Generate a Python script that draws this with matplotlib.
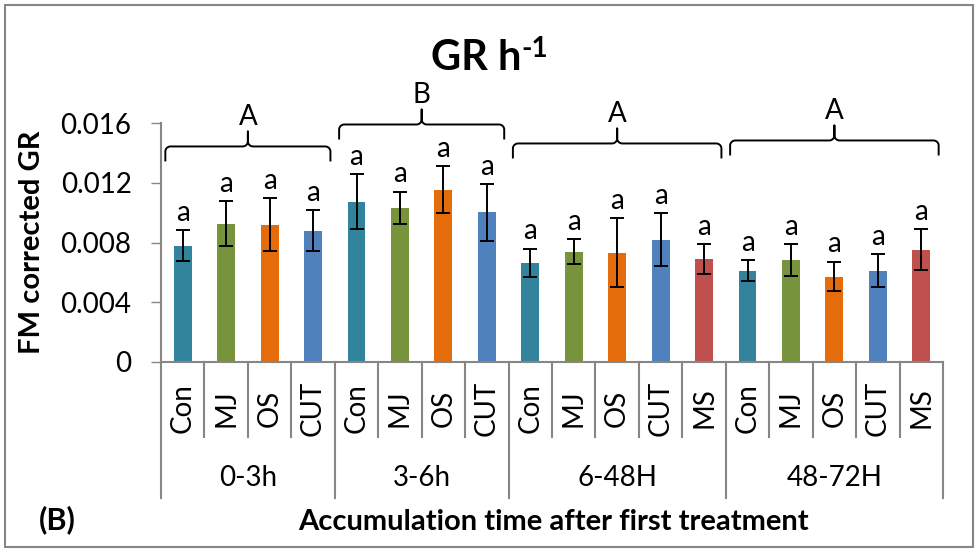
import numpy as np
import matplotlib
matplotlib.use("Agg")
import matplotlib.pyplot as plt
from matplotlib.patches import Rectangle
from matplotlib.transforms import blended_transform_factory

plt.rcParams['font.family'] = ['Lato', 'DejaVu Sans']

# treatments inside each time window
groups = ['0-3h', '3-6h', '6-48H', '48-72H']
group_treatments = [
    ['Con', 'MJ', 'OS', 'CUT'],
    ['Con', 'MJ', 'OS', 'CUT'],
    ['Con', 'MJ', 'OS', 'CUT', 'MS'],
    ['Con', 'MJ', 'OS', 'CUT', 'MS'],
]
# mean GR per bar and its error, in the same order
gr_mean = [0.00779, 0.00927, 0.00920, 0.00880,
           0.01074, 0.01034, 0.01154, 0.01003,
           0.00665, 0.00739, 0.00732, 0.00820, 0.00692,
           0.00612, 0.00685, 0.00572, 0.00612, 0.00752]
gr_err = [0.00105, 0.00150, 0.00180, 0.00138,
          0.00186, 0.00107, 0.00157, 0.00190,
          0.00094, 0.00083, 0.00230, 0.00176, 0.00100,
          0.00073, 0.00107, 0.00100, 0.00112, 0.00136]
bar_letters = ['a'] * 18
group_letters = ['A', 'B', 'A', 'A']
brace_level = [0.01443, 0.01590, 0.01463, 0.01483]
yticks = [0, 0.004, 0.008, 0.012, 0.016]

colors = {'Con': '#31849B', 'MJ': '#77933C', 'OS': '#E46C0A',
          'CUT': '#4F81BD', 'MS': '#C0504D'}
axis_gray = '#868686'
FS = 20

W, H = 975, 549
fig = plt.figure(figsize=(W / 100, H / 100), dpi=100)
def fx(p): return p / W
def fy(p): return 1 - p / H

ax = fig.add_axes([fx(161), fy(362), fx(943) - fx(161), fy(123) - fy(362)])

labels = [t for g in group_treatments for t in g]
x = np.arange(len(labels))
ax.bar(x, gr_mean, width=0.41, color=[colors[t] for t in labels], zorder=2)
ax.errorbar(x, gr_mean, yerr=gr_err, fmt='none', ecolor='black',
            elinewidth=1.4, capsize=4.7, capthick=1.4, zorder=3)
for xi, m, e, s in zip(x, gr_mean, gr_err, bar_letters):
    ax.annotate(s, (xi, m + e), xytext=(0, 3), textcoords='offset points',
                ha='center', va='bottom', fontsize=FS)

ax.set_xlim(-0.5, len(labels) - 0.5)
ax.set_ylim(0, 0.016)
ax.set_yticks(yticks)
ax.set_yticklabels(['0' if v == 0 else f'{v:.3f}' for v in yticks], fontsize=FS)
ax.tick_params(axis='y', length=7.2, width=1, color=axis_gray, pad=14)
ax.set_xticks([])
for s in ['top', 'right']:
    ax.spines[s].set_visible(False)
for s in ['left', 'bottom']:
    ax.spines[s].set_color(axis_gray)
    ax.spines[s].set_linewidth(1.5)

# category axis below the bars: treatment row, then time window row
tr = blended_transform_factory(ax.transData, fig.transFigure)
for xi, t in zip(x, labels):
    ax.text(xi, fy(408), t, rotation=90, ha='center', va='center',
            fontsize=FS, transform=tr)
edges = np.cumsum([0] + [len(g) for g in group_treatments]) - 0.5
for i in range(len(labels) + 1):
    b = i - 0.5
    long_line = np.any(np.isclose(edges, b))
    ax.plot([b, b], [fy(362), fy(498 if long_line else 437)], color=axis_gray,
            lw=1.5, transform=tr, clip_on=False)
for g, lo, hi in zip(groups, edges[:-1], edges[1:]):
    ax.text((lo + hi) / 2, fy(478), g, ha='center', va='center',
            fontsize=FS, transform=tr)

# curly braces over each time window
def brace(x0, x1, y, drop=0.00094, rise=0.0010, rx=0.12, ry=0.00034):
    xm = (x0 + x1) / 2
    def arc(cx, cy, a0, a1):
        t = np.radians(np.linspace(a0, a1, 12))
        return list(cx + rx * np.cos(t)), list(cy + ry * np.sin(t))
    px, py = [x0], [y - drop]
    for ax_, ay_ in [arc(x0 + rx, y - ry, 180, 90),
                     arc(xm - rx, y + ry, 270, 360)]:
        px += ax_; py += ay_
    px += [xm]; py += [y + rise]
    px += [xm]; py += [y + ry]
    for ax_, ay_ in [arc(xm + rx, y + ry, 180, 270),
                     arc(x1 - rx, y - ry, 90, 0)]:
        px += ax_; py += ay_
    px += [x1]; py += [y - drop]
    ax.plot(px, py, color='black', lw=1.4, clip_on=False, zorder=3)
    return xm, y + rise

for lo, hi, lev, lt in zip(edges[:-1], edges[1:], brace_level, group_letters):
    xm, top = brace(lo + 0.1, hi - 0.1, lev)
    ax.annotate(lt, (xm, top), xytext=(0, 1), textcoords='offset points',
                ha='center', va='bottom', fontsize=FS, annotation_clip=False)

# titles
fig.text(fx(476), fy(70), 'GR h', ha='center', va='baseline',
         fontsize=30, fontweight='bold')
fig.text(fx(521), fy(36), '-1', ha='left', va='top', fontsize=20,
         fontweight='bold')
fig.text(fx(32), fy(242), 'FM corrected GR', rotation=90, ha='center',
         va='center', fontsize=21, fontweight='bold')
fig.text(fx(553), fy(522), 'Accumulation time after first treatment',
         ha='center', va='center', fontsize=21, fontweight='bold')
fig.text(fx(57), fy(520), '(B)', ha='center', va='center', fontsize=22,
         fontweight='bold')

fig.patches.append(Rectangle((fx(5), fy(547)), fx(968), fy(5) - fy(547),
                             transform=fig.transFigure, fill=False,
                             edgecolor=axis_gray, lw=1.5))

fig.savefig('out.png', dpi=100)
